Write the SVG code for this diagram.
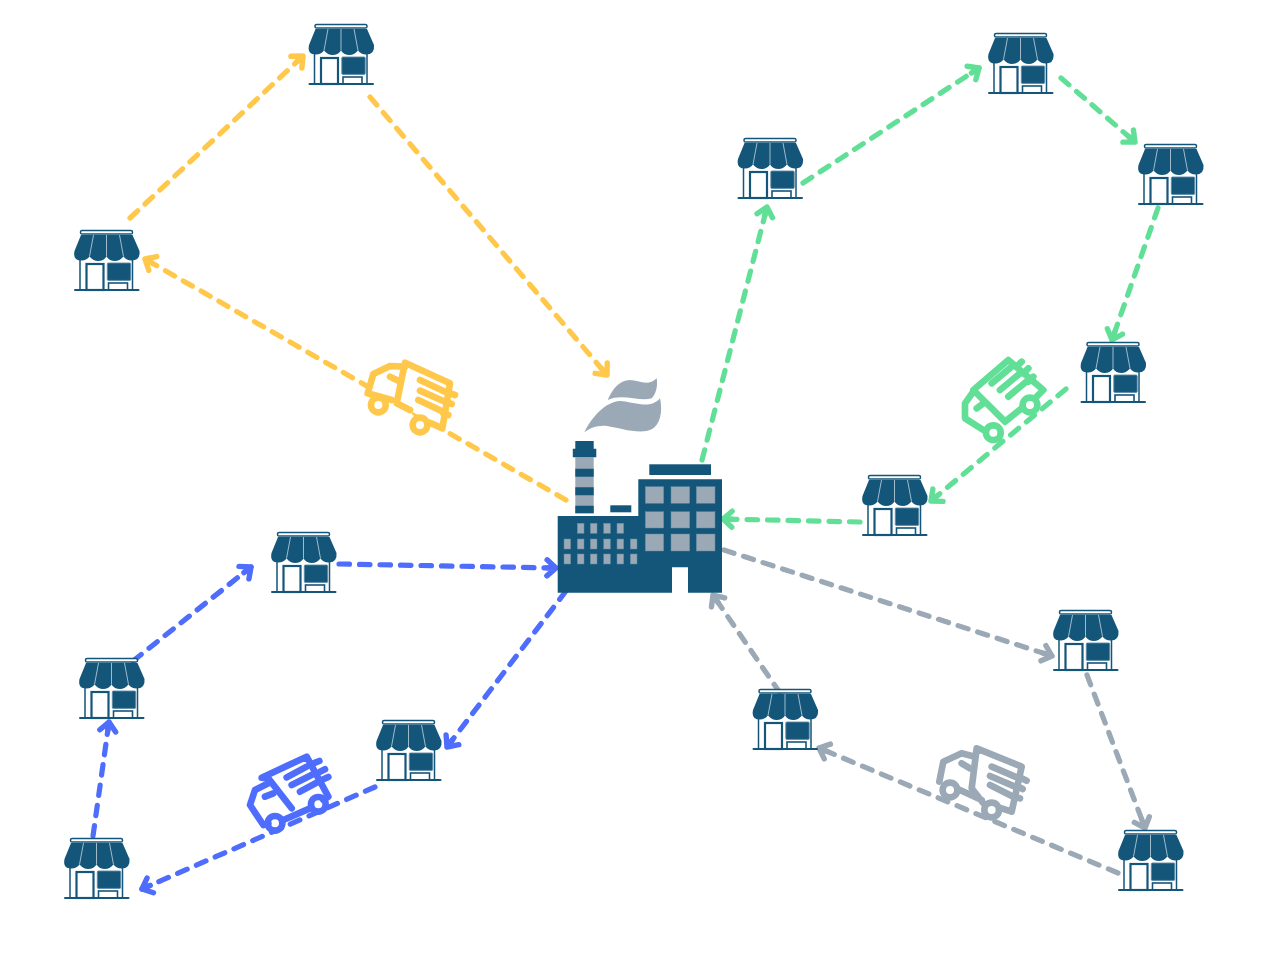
<svg xmlns="http://www.w3.org/2000/svg" width="1280" height="965" viewBox="0 0 1280 965">
<style>
.c{fill:none;stroke-width:5.2;stroke-dasharray:10.5 10;stroke-linecap:round}
.y{stroke:#FFC84A}.g{stroke:#62DF97}.b{stroke:#4F6DFC}.s{stroke:#9AA9B5}
.d{fill:#14557A}.w{fill:#9AA9B5;stroke:#5E8AA5;stroke-width:.5}
.t{fill:none;stroke-width:20;stroke-linecap:round;stroke-linejoin:round}
.m{fill:none;stroke-width:5.4;stroke-linecap:round;stroke-linejoin:round}
</style>
<defs>
<marker id="my" markerUnits="userSpaceOnUse" markerWidth="30" markerHeight="30" refX="15" refY="15" orient="auto"><path class="m y" d="M6,7L15,15L6,23M15,15H6"/></marker>
<marker id="mg" markerUnits="userSpaceOnUse" markerWidth="30" markerHeight="30" refX="15" refY="15" orient="auto"><path class="m g" d="M6,7L15,15L6,23M15,15H6"/></marker>
<marker id="mb" markerUnits="userSpaceOnUse" markerWidth="30" markerHeight="30" refX="15" refY="15" orient="auto"><path class="m b" d="M6,7L15,15L6,23M15,15H6"/></marker>
<marker id="ms" markerUnits="userSpaceOnUse" markerWidth="30" markerHeight="30" refX="15" refY="15" orient="auto"><path class="m s" d="M6,7L15,15L6,23M15,15H6"/></marker>
<g id="store">
<rect x="-26" y=".5" width="52" height="3.6" rx="1.6" fill="#fff" stroke="#14557A" stroke-width="1.5"/>
<path class="d" d="M-25.5,5H26L33,21Q34,30.5 25,30.5Q20,30.5 17,26.5Q13,31 8.5,31Q3,31 0,26.5Q-3,31 -8.5,31Q-13,31 -17,26.5Q-20,30.5 -25,30.5Q-34,30.5 -32,21Z"/>
<path d="M-13,5L-17,26.5M0,5V26.5M13,5L17,26.5" fill="none" stroke="#C5D6E0" stroke-width=".8"/>
<path d="M-26.5,30V60M26,30V60" fill="none" stroke="#14557A" stroke-width="1.5"/>
<rect x="-20" y="34" width="17" height="26" fill="#fff" stroke="#14557A" stroke-width="2.2"/>
<rect x=".8" y="33" width="23.4" height="17.4" rx="1" class="d" stroke="#5E8AA5" stroke-width=".9"/>
<rect x="2" y="53" width="19" height="7" fill="#fff" stroke="#14557A" stroke-width="1.6"/>
<path d="M-31.5,60H32" stroke="#14557A" stroke-width="2" stroke-linecap="round"/>
</g>
</defs>
<rect width="1280" height="965" fill="#fff"/>
<g id="connectors">
<path class="c y" marker-end="url(#my)" d="M130,218L303,56"/>
<path class="c y" marker-end="url(#my)" d="M370,97L607,375"/>
<path class="c y" marker-end="url(#my)" d="M566,500L145,259"/>
<path class="c g" marker-end="url(#mg)" d="M702,460L767,207"/>
<path class="c g" marker-end="url(#mg)" d="M803,183L979,68"/>
<path class="c g" marker-end="url(#mg)" d="M1061,78L1135,142"/>
<path class="c g" marker-end="url(#mg)" d="M1158,208L1112,340"/>
<path class="c g" marker-end="url(#mg)" d="M1066,389L931,501"/>
<path class="c g" marker-end="url(#mg)" d="M860,522L723,519"/>
<path class="c b" marker-end="url(#mb)" d="M339,564L556,568"/>
<path class="c b" marker-end="url(#mb)" d="M566,591L447,747"/>
<path class="c b" marker-end="url(#mb)" d="M375,787L142,889"/>
<path class="c b" marker-end="url(#mb)" d="M93,836L109,722"/>
<path class="c b" marker-end="url(#mb)" d="M133,661L251,567"/>
<path class="c s" marker-end="url(#ms)" d="M724,550L1052,656"/>
<path class="c s" marker-end="url(#ms)" d="M1087,675L1145,828"/>
<path class="c s" marker-end="url(#ms)" d="M1118,873L819,748"/>
<path class="c s" marker-end="url(#ms)" d="M780,693L713,595"/>
</g>
<g id="factory">
<path class="d" d="M557.7,516H638.3V479.3H722V592.7H688V567.3H672V592.7H557.7Z"/>
<rect class="d" x="649.3" y="464.3" width="61.7" height="10.7"/>
<rect class="d" x="610.3" y="505.3" width="21" height="7"/>
<rect x="575.3" y="457.3" width="18.4" height="56" fill="#9AA9B5"/>
<path class="d" d="M575.3,441H593.7V448.7H596.3V457.3H572.8V448.7H575.3ZM575.3,468.7H593.7V476.7H575.3ZM575.3,487.3H593.7V495.3H575.3ZM575.3,505.7H593.7V513.3H575.3Z"/>
<g class="w">
<rect x="645.3" y="486.7" width="18.4" height="16.6"/><rect x="671" y="486.7" width="18.7" height="16.6"/><rect x="696.3" y="486.7" width="18.7" height="16.6"/>
<rect x="645.3" y="511.7" width="18.4" height="16.3"/><rect x="671" y="511.7" width="18.7" height="16.3"/><rect x="696.3" y="511.7" width="18.7" height="16.3"/>
<rect x="645.3" y="534" width="18.4" height="17"/><rect x="671" y="534" width="18.7" height="17"/><rect x="696.3" y="534" width="18.7" height="17"/>
<rect x="577.3" y="523.3" width="6.7" height="10"/><rect x="590.3" y="523.3" width="6.7" height="10"/><rect x="603.7" y="523.3" width="6.7" height="10"/><rect x="617" y="523.3" width="6.7" height="10"/>
<rect x="564" y="539" width="6.7" height="10"/><rect x="577.3" y="539" width="6.7" height="10"/><rect x="590.3" y="539" width="6.7" height="10"/><rect x="603.7" y="539" width="6.7" height="10"/><rect x="617" y="539" width="6.7" height="10"/><rect x="630.3" y="539" width="6.7" height="10"/>
<rect x="564" y="554" width="6.7" height="10"/><rect x="577.3" y="554" width="6.7" height="10"/><rect x="590.3" y="554" width="6.7" height="10"/><rect x="603.7" y="554" width="6.7" height="10"/><rect x="617" y="554" width="6.7" height="10"/><rect x="630.3" y="554" width="6.7" height="10"/>
</g>
<path fill="#9AA9B5" d="M607.7,400C612,390 619,380 630,380C638,380 648,387 656.7,378.3C658,386 656,394 651.7,398.3C640,402 622,393 607.7,400Z"/>
<path fill="#9AA9B5" d="M584.3,432.3C592,417 605,402 620,401C635,402 650,410 660,398.3C663,412 660,425 651.7,429.3C640,435 620,428 607,426C598,425 590,428 584.3,432.3Z"/>
</g>
<g id="truck-yellow" transform="translate(355 350) scale(.3333)">
<path fill="#fff" d="M150,38L285,100L262,235L125,160L38,130L55,72L105,48Z"/>
<g class="t y">
<path d="M165,180L125,160L150,38L285,100L262,235L225,218"/>
<path d="M150,50L105,48L55,72L38,130L110,150M105,80L130,92"/>
<path d="M195,90L270,125M195,122L280,160M190,150L265,185M285,130L300,135M275,155L290,162M265,190L280,195"/>
<circle cx="70" cy="165" r="22"/><circle cx="195" cy="225" r="22"/>
</g>
</g>
<g id="truck-green" transform="translate(955 350) scale(.3333)">
<path fill="#fff" d="M55,120L160,30L265,120L150,215L115,245L85,240L30,205V160Z"/>
<g class="t g">
<path d="M150,215L55,120L160,30L265,120L245,140M150,215L200,175"/>
<path d="M55,125L30,160V205L85,240M65,175L85,160"/>
<path d="M110,100L170,50M135,120L195,70M160,140L220,90M200,35L185,50M220,55L205,70M235,80L220,95"/>
<circle cx="115" cy="248" r="22"/><circle cx="225" cy="165" r="22"/>
</g>
</g>
<g id="truck-blue" transform="translate(240 745) scale(.3333)">
<path fill="#fff" d="M65,98L200,35L265,155L130,225L105,235L70,240L30,180L45,135L85,115Z"/>
<g class="t b">
<path d="M155,190L85,100L65,98L200,35L265,155L250,165M130,225L210,190"/>
<path d="M85,115L45,135L30,180L70,240L85,235M75,155L100,145"/>
<path d="M140,97L200,65M155,120L225,85M180,140L245,105M220,55L238,48M240,80L255,73M250,103L265,96"/>
<circle cx="105" cy="235" r="22"/><circle cx="235" cy="178" r="22"/>
</g>
</g>
<g id="truck-grey" transform="translate(930 740) scale(.3333)">
<path fill="#fff" d="M140,25L275,80L245,215L125,170L28,125L40,65L95,40Z"/>
<g class="t s">
<path d="M160,190L125,145L140,25L275,80L245,215L215,205M90,150L155,180"/>
<path d="M135,50L95,40L40,65L28,125M95,70L120,85"/>
<path d="M185,80L255,110M180,108L255,140M180,135L250,170M275,115L290,122M265,140L278,147M255,170L270,175"/>
<circle cx="60" cy="150" r="22"/><circle cx="185" cy="210" r="22"/>
</g>
</g>
<g id="store-1"><use href="#store" x="341" y="24"/></g>
<g id="store-2"><use href="#store" x="106.5" y="230"/></g>
<g id="store-3"><use href="#store" x="770" y="138"/></g>
<g id="store-4"><use href="#store" x="1020.5" y="33"/></g>
<g id="store-5"><use href="#store" x="1170.5" y="144"/></g>
<g id="store-6"><use href="#store" x="1113" y="342"/></g>
<g id="store-7"><use href="#store" x="894.5" y="475"/></g>
<g id="store-8"><use href="#store" x="303.5" y="532"/></g>
<g id="store-9"><use href="#store" x="111.5" y="658"/></g>
<g id="store-10"><use href="#store" x="408.5" y="720"/></g>
<g id="store-11"><use href="#store" x="96.5" y="838"/></g>
<g id="store-12"><use href="#store" x="785" y="689"/></g>
<g id="store-13"><use href="#store" x="1085.5" y="610"/></g>
<g id="store-14"><use href="#store" x="1150.5" y="830"/></g>
</svg>
